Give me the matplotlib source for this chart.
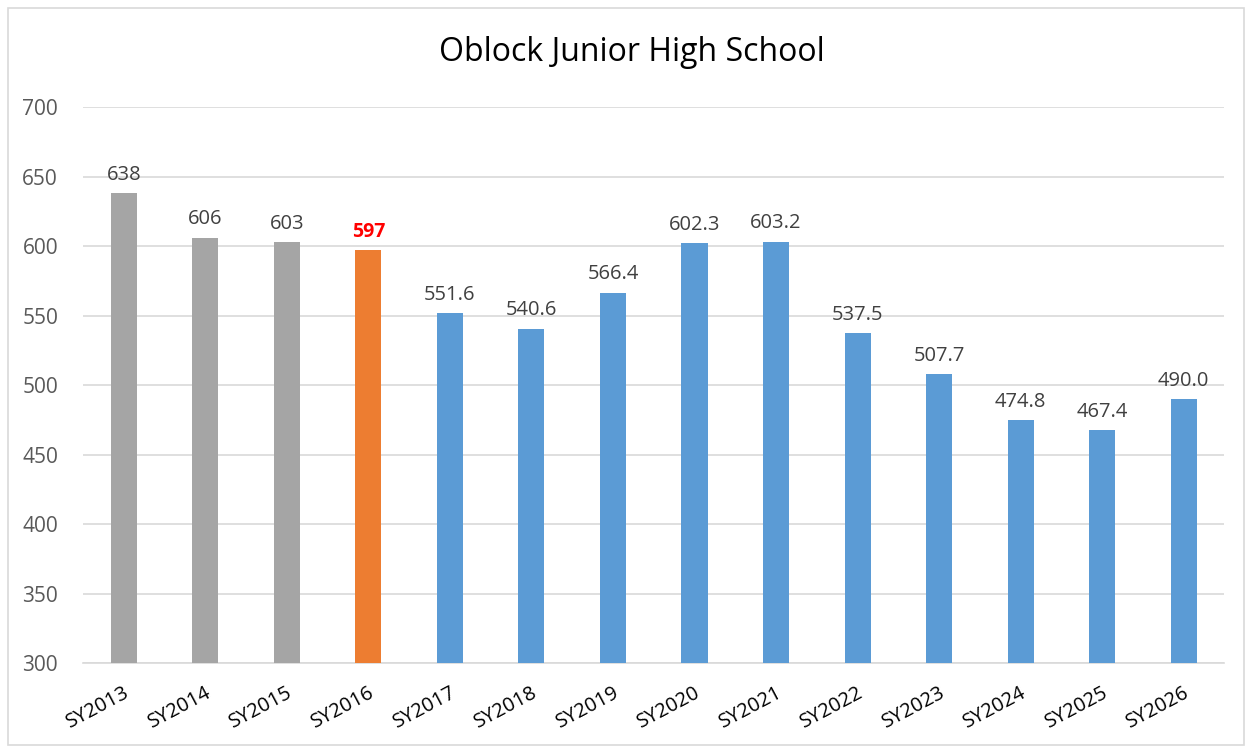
import matplotlib.pyplot as plt
import numpy as np

years = ["SY2013", "SY2014", "SY2015", "SY2016", "SY2017", "SY2018", "SY2019",
         "SY2020", "SY2021", "SY2022", "SY2023", "SY2024", "SY2025", "SY2026"]
values = [638, 606, 603, 597, 551.6, 540.6, 566.4, 602.3, 603.2, 537.5, 507.7, 474.8, 467.4, 490.0]
labels = ["638", "606", "603", "597", "551.6", "540.6", "566.4", "602.3", "603.2",
          "537.5", "507.7", "474.8", "467.4", "490.0"]
kinds = ["actual"] * 3 + ["current"] + ["projected"] * 10

colors = {"actual": "#A5A5A5", "current": "#ED7D31", "projected": "#5B9BD5"}

plt.rcParams['font.family'] = ['Open Sans', 'DejaVu Sans']

fig = plt.figure(figsize=(12.52, 7.49), dpi=100)
ax = fig.add_axes([0.0663, 0.1148, 0.9117, 0.7422])

# light outer border like the spreadsheet chart area
border = plt.Rectangle((0.006, 0.005), 0.988, 0.984, transform=fig.transFigure,
                       fill=False, edgecolor="#D9D9D9", linewidth=1.2)
fig.patches.append(border)

x = np.arange(len(years))
ax.bar(x, np.array(values) - 300, bottom=300, width=0.32,
       color=[colors[k] for k in kinds], zorder=3)

for xi, v, lab, k in zip(x, values, labels, kinds):
    if k == "current":
        ax.text(xi, v + 6, lab, ha='center', va='bottom', fontsize=14,
                color="#FF0000", fontweight='bold')
    else:
        ax.text(xi, v + 6, lab, ha='center', va='bottom', fontsize=14.5, color="#404040")

ax.set_ylim(300, 700)
ax.set_xlim(-0.5, len(years) - 0.5)
ax.set_yticks(range(300, 701, 50))
ax.yaxis.grid(True, color="#D9D9D9", linewidth=1.2, zorder=0)
ax.set_axisbelow(True)

for s in ["top", "right", "left"]:
    ax.spines[s].set_visible(False)
ax.spines["bottom"].set_color("#D9D9D9")
ax.spines["bottom"].set_linewidth(1.2)

ax.tick_params(axis='both', length=0, labelsize=15, colors="#595959")
ax.tick_params(axis='y', pad=18)
ax.set_xticks(x)
ax.set_xticklabels(years, rotation=28, ha='right', rotation_mode='anchor',
                   color="#000000", fontsize=14.5)
ax.tick_params(axis='x', pad=14)

fig.text(0.505, 0.93, "Oblock Junior High School", ha='center', va='center',
         fontsize=23, color="#000000")

fig.savefig("out.png", dpi=100)
